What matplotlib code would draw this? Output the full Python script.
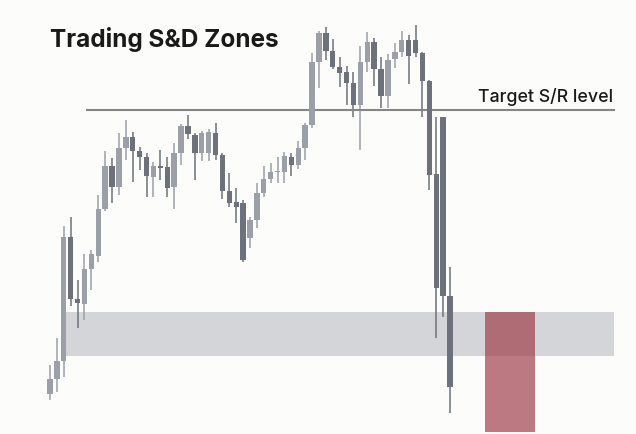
import matplotlib
matplotlib.use("Agg")
import matplotlib.pyplot as plt
from matplotlib.patches import Rectangle

# price = 434 - pixel row (chart in screen-like units)
H = 434
body_top = [379,361,237,237,299,269,254,209,166,166,148,137,137,151,157,166,166,167,153,126,
            126,135,133,132,133,155,191,202,203,220,193,179,172,171,156,157,148,125,62,33,
            33,51,67,72,83,62,42,42,69,60,52,40,40,40,53,81,174,117,296]
body_bot = [394,379,361,299,303,304,269,256,209,187,187,148,151,157,176,177,168,188,187,153,
            134,153,153,153,155,191,203,207,260,238,220,193,179,172,172,165,165,148,125,62,
            51,67,73,83,105,105,62,69,96,96,59,52,56,53,81,175,288,296,387]
wick_hi = [365,338,226,217,280,254,250,195,151,158,133,120,132,147,153,162,150,157,143,124,
           115,133,131,129,123,153,173,188,200,217,183,166,163,157,152,153,141,123,53,31,
           27,39,57,66,72,46,32,38,57,54,43,31,35,25,52,80,117,117,267]
wick_lo = [400,392,377,306,328,320,290,262,211,203,195,160,182,170,197,197,180,197,209,165,
           139,180,161,161,160,199,207,223,262,248,228,197,183,183,183,176,169,160,128,88,
           60,69,87,105,117,150,72,86,108,108,68,57,84,57,117,190,338,317,413]
direction = list("LLLDDLLLLDLLDDDLDDLLDDLLDDDDDLLLLLLDLLLLDDDDDLLDDLLLDDDDDDD")

target_level = H - 110
zone_low, zone_high = H - 356, H - 312
target_low, target_high = 2, H - 312

fig = plt.figure(figsize=(6.36, 4.34), dpi=100)
fig.patch.set_facecolor("#fcfcfb")
ax = fig.add_axes([0, 0, 1, 1])
ax.set_facecolor("#fcfcfb")
n = len(body_top)
step = 400 / (n - 1)
x0 = -50 / step
ax.set_xlim(x0, x0 + 636 / step)
ax.set_ylim(0, H)
ax.axis("off")

def px(v):
    return x0 + v / step

# supply/demand zone
ax.add_patch(Rectangle((px(63), zone_low), px(614) - px(63), zone_high - zone_low,
                       facecolor="#d4d5d8", edgecolor="none", zorder=1))

light, dark = "#9ba0a8", "#6c717b"
for i in range(n):
    c = light if direction[i] == "L" else dark
    ax.plot([i, i], [H - wick_lo[i], H - wick_hi[i]], color=c, lw=1.1, zorder=2,
            solid_capstyle="butt")
    ax.add_patch(Rectangle((i - 0.39, H - body_bot[i]), 0.78,
                           max(body_bot[i] - body_top[i], 1.5),
                           facecolor=c, edgecolor="none", zorder=3))

# target box
ax.add_patch(Rectangle((px(485), target_low), px(535) - px(485), target_high - target_low,
                       facecolor="#9f3b47", alpha=0.68, edgecolor="none", zorder=4))

# target S/R line
ax.plot([px(87), px(614)], [target_level, target_level], color="#858585", lw=1.5, zorder=2)
ax.text(px(613), target_level + 8, "Target S/R level", ha="right", va="baseline",
        fontsize=12.8, family=["Inter", "DejaVu Sans"], fontweight="medium", color="#1a1a1a")

ax.text(px(50), H - 47, "Trading S&D Zones", ha="left", va="baseline",
        fontsize=17.5, family=["Inter", "DejaVu Sans"], fontweight="bold", color="#1a1a1a")

fig.savefig("out.png", dpi=100, facecolor=fig.get_facecolor())
